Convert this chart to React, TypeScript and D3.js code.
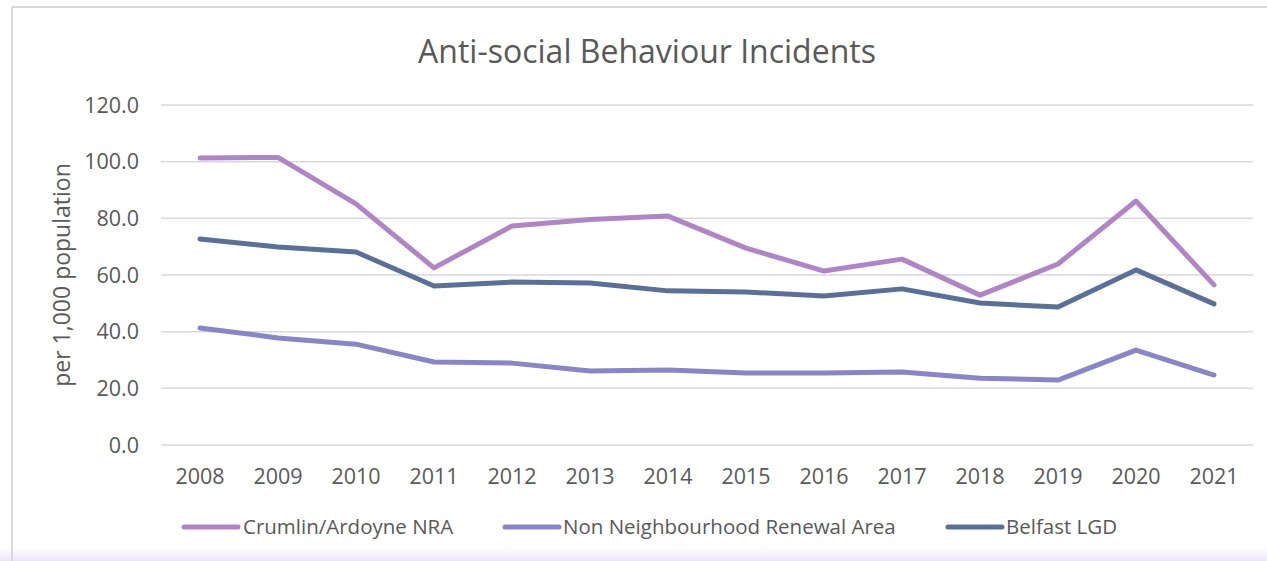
import React from "react";
import * as d3 from "d3";

const years = ["2008","2009","2010","2011","2012","2013","2014","2015","2016","2017","2018","2019","2020","2021"];
const crumlin = [101.3,101.5,85.1,62.5,77.3,79.6,80.8,69.5,61.4,65.6,52.9,63.9,86.1,56.5];
const nonNRA = [41.3,37.8,35.6,29.3,28.9,26.1,26.5,25.4,25.4,25.8,23.6,22.9,33.5,24.7];
const belfast = [72.7,69.9,68.1,56.1,57.5,57.2,54.4,54.0,52.6,55.1,50.1,48.7,61.8,49.8];
const yTicks = [0,20,40,60,80,100,120];

const seriesList = [
  { name: "Crumlin/Ardoyne NRA", values: crumlin, color: "#B085C7" },
  { name: "Non Neighbourhood Renewal Area", values: nonNRA, color: "#8985C9" },
  { name: "Belfast LGD", values: belfast, color: "#5A7098" },
];

const W = 1267, H = 561;
const plotLeft = 161, plotRight = 1253, plotTop = 105, plotBottom = 445;
const font = "'Open Sans', sans-serif";
const textColor = "#595959";

export default function App() {
  const x = d3.scaleBand<string>().domain(years).range([plotLeft, plotRight]).padding(0);
  const y = d3.scaleLinear().domain([0, 120]).range([plotBottom, plotTop]);
  const line = d3.line<number>()
    .x((_, i) => (x(years[i]) as number) + x.bandwidth() / 2)
    .y((v) => y(v));

  const legendItems = [
    { lx: 184, tx: 243 },
    { lx: 505, tx: 563 },
    { lx: 948, tx: 1006 },
  ];

  return (
    <svg width={W} height={H} style={{ position: "absolute", left: 0, top: 0, background: "#fff" }} fontFamily={font}>
      <defs>
        <linearGradient id="bottomGlow" x1="0" y1="0" x2="0" y2="1">
          <stop offset="0" stopColor="#ffffff" stopOpacity="0" />
          <stop offset="1" stopColor="#EDE3F7" stopOpacity="1" />
        </linearGradient>
      </defs>
      <rect x={0} y={0} width={W} height={H} fill="#fff" />
      <rect x={0} y={540} width={W} height={21} fill="url(#bottomGlow)" />
      <line x1={12} y1={7} x2={W} y2={7} stroke="#D9D9D9" strokeWidth={2} />
      <line x1={12} y1={7} x2={12} y2={H} stroke="#D9D9D9" strokeWidth={2} />

      <text x={647} y={63} textAnchor="middle" fontSize={32} fill={textColor}>Anti-social Behaviour Incidents</text>

      {yTicks.map((t) => (
        <g key={t}>
          <line x1={plotLeft} x2={plotRight} y1={y(t)} y2={y(t)} stroke="#D9D9D9" strokeWidth={1.5} />
          <text x={139} y={y(t)} dy="0.35em" textAnchor="end" fontSize={21.5} fill={textColor}>{t.toFixed(1)}</text>
        </g>
      ))}

      {years.map((yr) => (
        <text key={yr} x={(x(yr) as number) + x.bandwidth() / 2} y={484} textAnchor="middle" fontSize={21.5} fill={textColor}>{yr}</text>
      ))}

      <text transform={`translate(70,275) rotate(-90)`} textAnchor="middle" fontSize={23} fill={textColor}>per 1,000 population</text>

      {seriesList.map((s) => (
        <path key={s.name} d={line(s.values) || ""} fill="none" stroke={s.color} strokeWidth={5} strokeLinecap="round" strokeLinejoin="round" />
      ))}

      {seriesList.map((s, i) => (
        <g key={s.name}>
          <line x1={legendItems[i].lx} x2={legendItems[i].lx + 54} y1={527} y2={527} stroke={s.color} strokeWidth={5} strokeLinecap="round" />
          <text x={legendItems[i].tx} y={527} dy="0.35em" fontSize={20.5} fill={textColor}>{s.name}</text>
        </g>
      ))}
    </svg>
  );
}
